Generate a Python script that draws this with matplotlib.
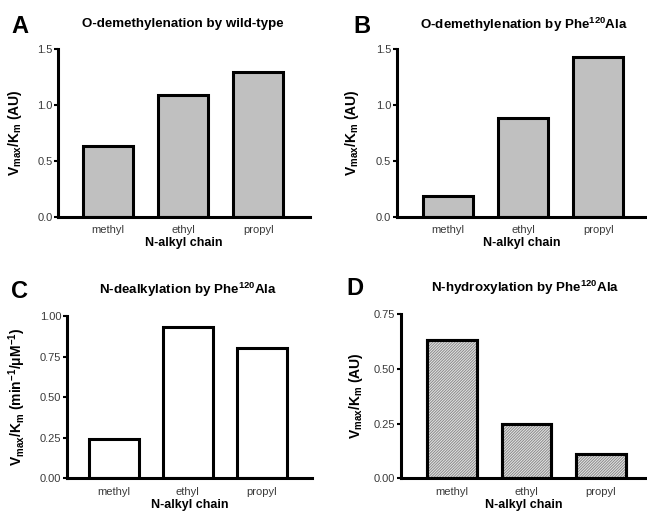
import matplotlib
matplotlib.use("Agg")
import matplotlib.pyplot as plt

plt.rcParams['font.family'] = ['Liberation Sans', 'DejaVu Sans']
plt.rcParams['mathtext.fontset'] = 'custom'
plt.rcParams['mathtext.rm'] = 'Liberation Sans:bold'
plt.rcParams['mathtext.it'] = 'Liberation Sans:bold'
plt.rcParams['mathtext.bf'] = 'Liberation Sans:bold'
plt.rcParams['hatch.linewidth'] = 0.7

categories = ["methyl", "ethyl", "propyl"]
vals_a = [0.63, 1.09, 1.30]
vals_b = [0.185, 0.88, 1.43]
vals_c = [0.24, 0.934, 0.80]
vals_d = [0.631, 0.246, 0.111]

titles = ["O-demethylenation by wild-type",
          r"O-demethylenation by Phe$^{120}$Ala",
          r"N-dealkylation by Phe$^{120}$Ala",
          r"N-hydroxylation by Phe$^{120}$Ala"]
letters = ["A", "B", "C", "D"]
ylabels = [r"V$_{max}$/K$_{m}$ (AU)",
           r"V$_{max}$/K$_{m}$ (AU)",
           r"V$_{max}$/K$_{m}$ (min$^{-1}$/$\mu$M$^{-1}$)",
           r"V$_{max}$/K$_{m}$ (AU)"]
yticks = [[0.0, 0.5, 1.0, 1.5], [0.0, 0.5, 1.0, 1.5],
          [0.0, 0.25, 0.5, 0.75, 1.0], [0.0, 0.25, 0.5, 0.75]]
yticklabels = [["0.0", "0.5", "1.0", "1.5"], ["0.0", "0.5", "1.0", "1.5"],
               ["0.00", "0.25", "0.50", "0.75", "1.00"],
               ["0.00", "0.25", "0.50", "0.75"]]

W, H = 647, 517
fig = plt.figure(figsize=(W / 100, H / 100), dpi=100)

# pixel boxes: left, right, top, bottom ; xlim
boxes = [(58, 310, 49.3, 216.7, (-0.67, 2.69)),
         (396.7, 647, 49.3, 216.7, (-0.68, 2.65)),
         (66.7, 312, 316, 478.3, (-0.64, 2.68)),
         (401, 647, 314, 478.3, (-0.69, 2.62))]
faces = ["#c0c0c0", "#c0c0c0", "white", "#e6e6e6"]
hatches = [None, None, None, "/" * 12]
letter_pos = [(11, 33), (353, 33), (11, 298), (346, 295)]
title_pos = [(183, 24), (524, 25), (188, 290), (525, 288)]
ylab_x = [15, 352, 17, 356]
data = [vals_a, vals_b, vals_c, vals_d]

tick_color = "#3a3a3a"
for i in range(4):
    l, r, t, b, xl = boxes[i]
    ax = fig.add_axes([l / W, 1 - b / H, (r - l) / W, (b - t) / H])
    xs = list(range(len(categories)))
    ax.bar(xs, data[i], width=0.67, color=faces[i], edgecolor="black",
           linewidth=2.2, zorder=2)
    if hatches[i]:
        ax.bar(xs, data[i], width=0.67, color="none", edgecolor="#8a8a8a",
               linewidth=0, hatch=hatches[i], zorder=2.5)
        ax.bar(xs, data[i], width=0.67, color="none", edgecolor="black",
               linewidth=2.2, zorder=3)
    ax.set_xlim(*xl)
    ax.set_ylim(yticks[i][0], yticks[i][-1])
    ax.set_yticks(yticks[i])
    ax.set_yticklabels(yticklabels[i])
    ax.set_xticks(xs)
    ax.set_xticklabels(categories)
    for s in ["top", "right"]:
        ax.spines[s].set_visible(False)
    for s in ["left", "bottom"]:
        ax.spines[s].set_linewidth(2.2)
    ax.tick_params(axis="y", direction="out", length=3, width=1.5,
                   labelsize=8, labelcolor=tick_color, pad=1)
    ax.tick_params(axis="x", length=0, labelsize=8, labelcolor=tick_color, pad=6)
    ax.set_xlabel("N-alkyl chain", fontsize=9, fontweight="bold", labelpad=1.5)
    fig.text(ylab_x[i] / W, 1 - ((t + b) / 2) / H, ylabels[i], rotation=90,
             fontsize=10, fontweight="bold", ha="center", va="center")
    fig.text(title_pos[i][0] / W, 1 - title_pos[i][1] / H, titles[i],
             fontsize=9.6, fontweight="bold", ha="center", va="center")
    fig.text(letter_pos[i][0] / W, 1 - letter_pos[i][1] / H, letters[i],
             fontsize=17, fontweight="bold", ha="left", va="baseline")

fig.savefig("out.png", dpi=100)
